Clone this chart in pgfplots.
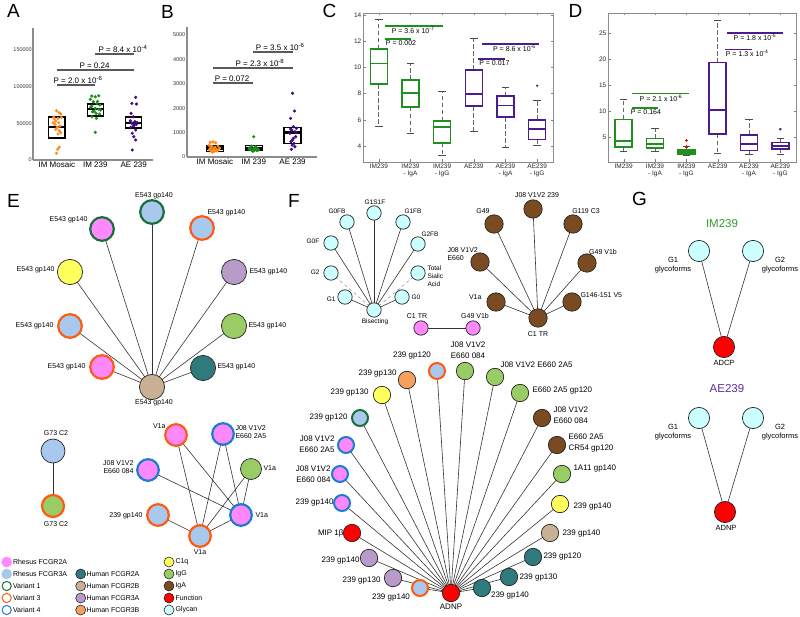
\documentclass[border=0pt]{standalone}
\usepackage{fontspec}
\setmainfont{Liberation Sans}
\usepackage{pgfplots}
\pgfplotsset{compat=1.18}
\definecolor{rpink}{HTML}{FF88FF}
\definecolor{rblue}{HTML}{A8C8EE}
\definecolor{v1}{HTML}{17703A}
\definecolor{v3}{HTML}{FF5A14}
\definecolor{v4}{HTML}{1C7CD0}
\definecolor{hteal}{HTML}{2F7A7C}
\definecolor{htan}{HTML}{C9B094}
\definecolor{hlav}{HTML}{B99BC9}
\definecolor{horg}{HTML}{F5A05C}
\definecolor{cyel}{HTML}{FFFF5E}
\definecolor{igg}{HTML}{9ACC66}
\definecolor{iga}{HTML}{7A4A20}
\definecolor{fred}{HTML}{FF0000}
\definecolor{gly}{HTML}{CCFFFF}
\definecolor{dorange}{HTML}{FF8C1A}
\definecolor{dgreen}{HTML}{1C8C1C}
\definecolor{dpurple}{HTML}{3E0C82}
\definecolor{cgreen}{HTML}{1F8F1F}
\definecolor{cpurple}{HTML}{4A1C8E}
\definecolor{imgreen}{HTML}{2E9E2E}
\definecolor{aepurple}{HTML}{5B2D9E}
\tikzset{
 wskstyle/.style={black!60, line width=0.75pt, dash pattern=on 4.5pt off 2.5pt},
 capstyle/.style={black!70, line width=0.75pt},
}
\newcommand{\fE}{\fontsize{7}{8.4}\selectfont}
\newcommand{\fF}{\fontsize{8}{10.5}\selectfont}
\newcommand{\fg}{\fontsize{6.5}{7.8}\selectfont}
\newcommand{\fG}{\fontsize{7.5}{9.5}\selectfont}
\newcommand{\fL}{\fontsize{7}{8}\selectfont}
\newcommand{\fP}{\fontsize{8}{9}\selectfont}
\newcommand{\fp}{\fontsize{7}{8}\selectfont}
\newcommand{\ed}[4]{\addplot[black!80, line width=0.6pt] coordinates {(#1,#2) (#3,#4)};}
\newcommand{\edd}[4]{\addplot[black!40, line width=0.6pt, dashed] coordinates {(#1,#2) (#3,#4)};}
\newcommand{\nn}[6]{\addplot[only marks, mark=*, mark size=#5pt, mark options={fill=#3, draw=#4, line width=#6pt}] coordinates {(#1,#2)};}
\newcommand{\lb}[5][center]{\node[anchor=#1,inner sep=0.3pt,align=center,font=#4] at (axis cs:#2,#3) {#5};}
\newcommand{\lbl}[4]{\node[anchor=west,inner sep=0.3pt,align=left,font=#3] at (axis cs:#1,#2) {#4};}
\newcommand{\lbr}[4]{\node[anchor=east,inner sep=0.3pt,align=right,font=#3] at (axis cs:#1,#2) {#4};}
\newcommand{\abox}[5]{%
 \pgfmathsetmacro\bxl{#1-#5}\pgfmathsetmacro\bxr{#1+#5}%
 \edef\mytmp{%
 \noexpand\addplot[black, line width=1.3pt, line cap=rect] coordinates {(\bxl,#2) (\bxr,#2) (\bxr,#4) (\bxl,#4) (\bxl,#2)};%
 \noexpand\addplot[black, line width=2.6pt] coordinates {(\bxl,#3) (\bxr,#3)};%
 }\mytmp}
\newcommand{\cbox}[7]{%
 \pgfmathsetmacro\bxl{#1-0.27}\pgfmathsetmacro\bxr{#1+0.27}%
 \pgfmathsetmacro\cxl{#1-0.12}\pgfmathsetmacro\cxr{#1+0.12}%
 \edef\mytmp{%
 \noexpand\addplot[wskstyle] coordinates {(#1,#5) (#1,#6)};%
 \noexpand\addplot[wskstyle] coordinates {(#1,#3) (#1,#2)};%
 \noexpand\addplot[capstyle] coordinates {(\cxl,#6) (\cxr,#6)};%
 \noexpand\addplot[capstyle] coordinates {(\cxl,#2) (\cxr,#2)};%
 \noexpand\addplot[#7, line width=1.5pt, line cap=rect] coordinates {(\bxl,#3) (\bxr,#3) (\bxr,#5) (\bxl,#5) (\bxl,#3)};%
 \noexpand\addplot[#7, line width=1.5pt] coordinates {(\bxl,#4) (\bxr,#4)};%
 }\mytmp}
\begin{document}
\begin{tikzpicture}
\path[use as bounding box] (0,0) rectangle (800pt,617pt);
% ================= network canvas (pixel coordinates) =================
\begin{axis}[at={(0pt,0pt)}, anchor=south west, scale only axis, width=800pt, height=617pt,
 xmin=0, xmax=800, ymin=0, ymax=617, y dir=reverse, hide axis, clip=false]
% panel letters
\node[font=\fontsize{19}{19}\selectfont, inner sep=0pt] at (axis cs:13.5,10.5) {A};
\node[font=\fontsize{19}{19}\selectfont, inner sep=0pt] at (axis cs:167.5,11.5) {B};
\node[font=\fontsize{19}{19}\selectfont, inner sep=0pt] at (axis cs:329.5,11) {C};
\node[font=\fontsize{19}{19}\selectfont, inner sep=0pt] at (axis cs:575.5,11) {D};
\node[font=\fontsize{19}{19}\selectfont, inner sep=0pt] at (axis cs:13.5,201) {E};
\node[font=\fontsize{19}{19}\selectfont, inner sep=0pt] at (axis cs:294,201) {F};
\node[font=\fontsize{19}{19}\selectfont, inner sep=0pt] at (axis cs:639.5,198.5) {G};
% ---- E edges
\ed{152}{212}{152}{387}
\ed{102}{229}{152}{387}
\ed{202}{228}{152}{387}
\ed{70}{272}{152}{387}
\ed{234}{272}{152}{387}
\ed{70}{326}{152}{387}
\ed{234}{326}{152}{387}
\ed{102}{367}{152}{387}
\ed{203}{368}{152}{387}
\ed{53}{451}{53}{506}
\ed{176}{435}{200}{536}
\ed{176}{435}{241}{515}
\ed{223}{434}{200}{536}
\ed{223}{434}{241}{515}
\ed{148}{470}{241}{515}
\ed{251}{469}{200}{536}
\ed{251}{469}{241}{515}
\ed{158}{515}{200}{536}
\ed{200}{536}{241}{515}
% ---- F glycan edges
\ed{374}{213}{374}{310}
\ed{347}{222}{374}{310}
\ed{403}{222}{374}{310}
\ed{331}{243}{374}{310}
\ed{418}{244}{374}{310}
\ed{345}{297}{374}{310}
\ed{402}{297}{374}{310}
\edd{331}{273}{374}{310}
\edd{418}{273}{374}{310}
\ed{421}{328}{473}{328}
% ---- F IgA edges
\ed{533}{209}{538}{318}
\ed{494}{224}{538}{318}
\ed{573}{224}{538}{318}
\ed{480}{262}{538}{318}
\ed{587}{263}{538}{318}
\ed{496}{302}{538}{318}
\ed{572}{302}{538}{318}
% ---- F ADNP edges
\ed{437}{371}{451}{593}
\ed{465}{371}{451}{593}
\ed{407}{380}{451}{593}
\ed{495}{377}{451}{593}
\ed{382}{395}{451}{593}
\ed{520}{393}{451}{593}
\ed{360}{418}{451}{593}
\ed{542}{418}{451}{593}
\ed{346}{445}{451}{593}
\ed{557}{445}{451}{593}
\ed{340}{474}{451}{593}
\ed{562}{474}{451}{593}
\ed{342}{503}{451}{593}
\ed{560}{504}{451}{593}
\ed{352}{533}{451}{593}
\ed{550}{533}{451}{593}
\ed{369}{558}{451}{593}
\ed{533}{557}{451}{593}
\ed{393}{578}{451}{593}
\ed{509}{577}{451}{593}
\ed{420}{588}{451}{593}
\ed{482}{588}{451}{593}
% ---- G edges
\ed{699}{251}{724}{347}
\ed{753}{251}{724}{347}
\ed{699}{418}{725}{512}
\ed{753}{418}{725}{512}
% ---- E nodes
\nn{152}{212}{rblue}{v1}{11.8}{2.2}
\nn{102}{229}{rpink}{v1}{11.8}{2.2}
\nn{202}{228}{rblue}{v3}{11.8}{2.2}
\nn{70}{272}{cyel}{black!85}{12.6}{0.7}
\nn{234}{272}{hlav}{black!85}{12.6}{0.7}
\nn{70}{326}{rblue}{v3}{11.8}{2.2}
\nn{234}{326}{igg}{black!85}{12.6}{0.7}
\nn{102}{367}{rpink}{v3}{11.8}{2.2}
\nn{203}{368}{hteal}{black!85}{12.6}{0.7}
\nn{152}{387}{htan}{black!85}{12.6}{0.7}
\nn{53}{451}{rblue}{black!85}{12}{0.7}
\nn{53}{506}{igg}{v3}{11}{2.2}
\nn{176}{435}{rpink}{v3}{10.8}{2.2}
\nn{223}{434}{rpink}{v4}{10.8}{2.2}
\nn{148}{470}{rpink}{v4}{10.8}{2.2}
\nn{251}{469}{igg}{black!85}{10.5}{0.7}
\nn{241}{515}{rpink}{v4}{10.8}{2.2}
\nn{158}{515}{rblue}{v3}{10.8}{2.2}
\nn{200}{536}{rblue}{v3}{10.8}{2.2}
% ---- legend
\nn{6.7}{562}{rpink}{rpink}{5}{0.5}
\nn{6.7}{574}{rblue}{rblue}{5}{0.5}
\nn{6.7}{586}{white}{v1}{4.6}{1}
\nn{6.7}{598}{white}{v3}{4.6}{1}
\nn{6.7}{610}{white}{v4}{4.6}{1}
\nn{80.7}{574}{hteal}{black!85}{5}{0.6}
\nn{80.7}{586}{htan}{black!85}{5}{0.6}
\nn{80.7}{598}{hlav}{black!85}{5}{0.6}
\nn{80.7}{610}{horg}{black!85}{5}{0.6}
\nn{169}{562}{cyel}{black!85}{5}{0.6}
\nn{169}{574}{igg}{black!85}{5}{0.6}
\nn{169}{586}{iga}{black!85}{5}{0.6}
\nn{169}{598}{fred}{black!85}{5}{0.6}
\nn{169}{610}{gly}{black!85}{5}{0.6}
% ---- F glycan nodes
\nn{374}{213}{gly}{black!85}{7.2}{0.7}
\nn{347}{222}{gly}{black!85}{7.2}{0.7}
\nn{403}{222}{gly}{black!85}{7.2}{0.7}
\nn{331}{243}{gly}{black!85}{7.2}{0.7}
\nn{418}{244}{gly}{black!85}{7.2}{0.7}
\nn{331}{273}{gly}{black!85}{7.2}{0.7}
\nn{418}{273}{gly}{black!85}{7.2}{0.7}
\nn{345}{297}{gly}{black!85}{7.2}{0.7}
\nn{402}{297}{gly}{black!85}{7.2}{0.7}
\nn{374}{310}{gly}{black!85}{7.2}{0.7}
\nn{421}{328}{rpink}{black!85}{7.2}{0.7}
\nn{473}{328}{rpink}{black!85}{7.2}{0.7}
% ---- F IgA nodes
\nn{533}{209}{iga}{black!85}{9.2}{0.7}
\nn{494}{224}{iga}{black!85}{9.2}{0.7}
\nn{573}{224}{iga}{black!85}{9.2}{0.7}
\nn{480}{262}{iga}{black!85}{9.2}{0.7}
\nn{587}{263}{iga}{black!85}{9.2}{0.7}
\nn{496}{302}{iga}{black!85}{9.2}{0.7}
\nn{572}{302}{iga}{black!85}{9.2}{0.7}
\nn{538}{318}{iga}{black!85}{9.2}{0.7}
% ---- F ADNP nodes
\nn{437}{371}{rblue}{v3}{8}{2}
\nn{465}{371}{igg}{black!85}{8.7}{0.7}
\nn{407}{380}{horg}{black!85}{8.7}{0.7}
\nn{495}{377}{igg}{black!85}{8.7}{0.7}
\nn{382}{395}{cyel}{black!85}{8.7}{0.7}
\nn{520}{393}{igg}{black!85}{8.7}{0.7}
\nn{360}{418}{rblue}{v1}{8}{2}
\nn{542}{418}{iga}{black!85}{8.7}{0.7}
\nn{346}{445}{rpink}{v4}{8}{2}
\nn{557}{445}{iga}{black!85}{8.7}{0.7}
\nn{340}{474}{rpink}{v4}{8}{2}
\nn{562}{474}{igg}{black!85}{8.7}{0.7}
\nn{342}{503}{rpink}{v4}{8}{2}
\nn{560}{504}{cyel}{black!85}{8.7}{0.7}
\nn{352}{533}{fred}{black!85}{8.7}{0.7}
\nn{550}{533}{htan}{black!85}{8.7}{0.7}
\nn{369}{558}{hlav}{black!85}{8.7}{0.7}
\nn{533}{557}{hteal}{black!85}{8.7}{0.7}
\nn{393}{578}{hlav}{black!85}{8.7}{0.7}
\nn{509}{577}{hteal}{black!85}{8.7}{0.7}
\nn{420}{588}{rblue}{v3}{8}{2}
\nn{482}{588}{hteal}{black!85}{8.7}{0.7}
\nn{451}{593}{fred}{black!85}{8.7}{0.7}
% ---- G nodes
\nn{699}{251}{gly}{black!85}{10.6}{0.7}
\nn{753}{251}{gly}{black!85}{10.6}{0.7}
\nn{724}{347}{fred}{black!85}{10.6}{0.7}
\nn{699}{418}{gly}{black!85}{10.6}{0.7}
\nn{753}{418}{gly}{black!85}{10.6}{0.7}
\nn{725}{512}{fred}{black!85}{10.6}{0.7}
% ---- E labels
\lb{154}{196}{\fE}{E543 gp140}
\lbr{88}{220}{\fE}{E543 gp140}
\lbl{207}{213}{\fE}{E543 gp140}
\lbr{55}{270}{\fE}{E543 gp140}
\lbl{249}{272}{\fE}{E543 gp140}
\lbr{54}{326}{\fE}{E543 gp140}
\lbl{248}{326}{\fE}{E543 gp140}
\lbr{86}{367}{\fE}{E543 gp140}
\lbl{217}{367}{\fE}{E543 gp140}
\lb{154}{403}{\fE}{E543 gp140}
\lb{56}{433}{\fE}{G73 C2}
\lb{56}{524}{\fE}{G73 C2}
\lbr{166}{426}{\fE}{V1a}
\lbl{235}{432}{\fE}{J08 V1V2\\E660 2A5}
\lbr{134}{467}{\fE}{J08 V1V2\\E660 084}
\lbl{263}{468}{\fE}{V1a}
\lbl{255}{515}{\fE}{V1a}
\lbr{143}{516}{\fE}{239 gp140}
\lb{200}{552}{\fE}{V1a}
% ---- legend labels
\lbl{12.5}{562}{\fL}{Rhesus FCGR2A}
\lbl{12.5}{574}{\fL}{Rhesus FCGR3A}
\lbl{12.5}{586}{\fL}{Variant 1}
\lbl{12.5}{598}{\fL}{Variant 3}
\lbl{12.5}{610}{\fL}{Variant 4}
\lbl{86}{574}{\fL}{Human FCGR2A}
\lbl{86}{586}{\fL}{Human FCGR2B}
\lbl{86}{598}{\fL}{Human FCGR3A}
\lbl{86}{610}{\fL}{Human FCGR3B}
\lbl{175}{562}{\fL}{C1q}
\lbl{175}{574}{\fL}{IgG}
\lbl{175}{586}{\fL}{IgA}
\lbl{175}{598}{\fL}{Function}
\lbl{175}{610}{\fL}{Glycan}
% ---- F glycan labels
\lb{375}{202}{\fg}{G1S1F}
\lb{337}{211}{\fg}{G0FB}
\lb{413}{211}{\fg}{G1FB}
\lb{313}{241}{\fg}{G0F}
\lb{430}{234}{\fg}{G2FB}
\lbr{320}{272}{\fg}{G2}
\lbl{427}{276}{\fg}{Total\\Sialic\\Acid}
\lbr{336}{299}{\fg}{G1}
\lbl{411}{297}{\fg}{G0}
\lb{375}{322}{\fg}{Bisecting}
\lb{417}{316}{\fE}{C1 TR}
\lb{475}{316}{\fE}{G49 V1b}
% ---- F IgA labels
\lb{537}{195}{\fE}{J08 V1V2 239}
\lb{483}{211}{\fE}{G49}
\lb{586}{211}{\fE}{G119 C3}
\lbl{447}{254}{\fE}{J08 V1V2\\E660}
\lb{603}{252}{\fE}{G49 V1b}
\lbr{482}{297}{\fE}{V1a}
\lbl{580}{295}{\fE}{G146-151 V5}
\lb{538}{334}{\fE}{C1 TR}
% ---- F ADNP labels
\lb{412}{356}{\fF}{239 gp120}
\lb{468}{350}{\fF}{J08 V1V2\\E660 084}
\lbr{397}{374}{\fF}{239 gp130}
\lbl{500}{365}{\fF}{J08 V1V2 E660 2A5}
\lbr{369}{393}{\fF}{239 gp130}
\lbl{532}{391}{\fF}{E660 2A5 gp120}
\lbr{348}{418}{\fF}{239 gp120}
\lbl{553}{415}{\fF}{J08 V1V2\\E660 084}
\lbr{335}{444}{\fF}{J08 V1V2\\E660 2A5}
\lbl{568}{443}{\fF}{E660 2A5\\CR54 gp120}
\lbr{331}{474}{\fF}{J08 V1V2\\E660 084}
\lbl{573}{469}{\fF}{1A11 gp140}
\lbr{334}{503}{\fF}{239 gp140}
\lbl{573}{507}{\fF}{239 gp140}
\lbr{344}{533}{\fF}{MIP 1β}
\lbl{562}{534}{\fF}{239 gp140}
\lbr{360}{561}{\fF}{239 gp140}
\lbl{543}{557}{\fF}{239 gp120}
\lbr{381}{581}{\fF}{239 gp130}
\lbl{519}{578}{\fF}{239 gp130}
\lb{391}{598}{\fF}{239 gp140}
\lb{510}{596}{\fF}{239 gp140}
\lb{451}{607}{\fF}{ADNP}
% ---- G labels
\node[font=\fontsize{11.5}{12}\selectfont, text=imgreen] at (axis cs:722,224) {IM239};
\lb{673}{265}{\fG}{G1\\glycoforms}
\lb{780}{265}{\fG}{G2\\glycoforms}
\lb{724}{363}{\fG}{ADCP}
\node[font=\fontsize{11.5}{12}\selectfont, text=aepurple] at (axis cs:727,389) {AE239};
\lb{673}{432}{\fG}{G1\\glycoforms}
\lb{780}{432}{\fG}{G2\\glycoforms}
\lb{726}{528}{\fG}{ADNP}
\end{axis}
% ================= A =================
\begin{axis}[at={(33pt,457pt)}, anchor=south west, scale only axis, width=120pt, height=132pt,
 xmin=0.38, xmax=3.5, ymin=0, ymax=180000, clip=false,
 axis x line=bottom, axis y line=left, axis line style={-, black!45, line width=1.2pt},
 xtick={1,2,3}, xticklabels={IM Mosaic,IM 239,AE 239},
 ytick={0,50000,100000,150000}, yticklabels={0,50000,100000,150000}, scaled y ticks=false,
 major tick length=0pt,
 xticklabel style={font=\fontsize{8}{9}\selectfont, inner sep=1.5pt},
 yticklabel style={font=\fontsize{5.5}{6}\selectfont, inner sep=1pt, text=black!80}]
\abox{1}{30000}{45000}{58600}{0.21}
\abox{2}{60000}{69500}{76300}{0.21}
\abox{3}{43600}{50400}{58600}{0.21}
\addplot[only marks, mark=*, mark size=1.4pt, dorange] coordinates {(0.99,67200) (1.06,64500) (1.10,62700) (0.92,58100) (1.03,56800) (0.97,53100) (0.90,50800) (1.05,50800) (0.95,48600) (1.08,46300) (1.01,44500) (0.97,41800) (1.06,40000) (1.10,37200) (1.03,35400) (1.06,17300) (1.02,14500) (0.99,9100) (0.93,56000) (1.12,58000)};
\addplot[only marks, mark=*, mark size=1.4pt, dgreen] coordinates {(1.91,87200) (2.0,86200) (2.09,87500) (1.87,82700) (1.95,79400) (2.04,77200) (2.12,74900) (1.91,73600) (2.0,70400) (2.09,69100) (1.93,65800) (2.02,63600) (2.11,62700) (1.91,59000) (2.03,56800) (2.0,37700) (2.06,80000) (1.97,66500) (2.13,68000) (1.88,72000)};
\addplot[only marks, mark=*, mark size=1.4pt, dpurple] coordinates {(3.05,85400) (2.95,77200) (3.07,76300) (2.93,63600) (2.99,59000) (2.91,53600) (3.03,52200) (2.96,50000) (3.07,48600) (2.99,46300) (2.92,44500) (3.05,40900) (2.96,36400) (3.0,31800) (3.05,27300) (2.96,13600) (3.02,49000) (2.94,50500) (3.09,51000) (3.01,47500)};
\addplot[black!65, line width=1.8pt] coordinates {(1,102200) (2,102200)};
\addplot[black!65, line width=1.8pt] coordinates {(1,122600) (3,122600)};
\addplot[black!65, line width=1.8pt] coordinates {(2,144400) (3,144400)};
\node[font=\fP, anchor=south, inner sep=1pt] at (axis cs:1.55,102200) {P = 2.0 x 10\textsuperscript{-6}};
\node[font=\fP, anchor=south, inner sep=1pt] at (axis cs:1.98,122600) {P = 0.24};
\node[font=\fP, anchor=south, inner sep=1pt] at (axis cs:2.72,144400) {P = 8.4 x 10\textsuperscript{-4}};
\end{axis}
% ================= B =================
\begin{axis}[at={(187pt,460pt)}, anchor=south west, scale only axis, width=130pt, height=130pt,
 xmin=0.28, xmax=3.63, ymin=0, ymax=5330, clip=false,
 axis x line=bottom, axis y line=left, axis line style={-, black!45, line width=1.2pt},
 xtick={1,2,3}, xticklabels={IM Mosaic,IM 239,AE 239},
 ytick={0,1000,2000,3000,4000,5000}, yticklabels={0,1000,2000,3000,4000,5000}, scaled y ticks=false,
 major tick length=0pt,
 xticklabel style={font=\fontsize{8}{9}\selectfont, inner sep=1.5pt},
 yticklabel style={font=\fontsize{5.5}{6}\selectfont, inner sep=1.5pt, text=black!80}]
\abox{1}{220}{350}{450}{0.22}
\abox{2}{260}{360}{460}{0.22}
\abox{3}{560}{1000}{1200}{0.22}
\addplot[only marks, mark=*, mark size=1.4pt, dorange] coordinates {(0.88,600) (0.95,620) (1.02,580) (0.85,480) (0.92,430) (1.0,400) (1.08,450) (0.88,350) (0.96,330) (1.04,300) (1.12,360) (0.90,260) (0.98,230) (1.06,250) (0.93,200) (1.01,280) (1.10,320) (0.86,300)};
\addplot[only marks, mark=*, mark size=1.4pt, dgreen] coordinates {(2.0,830) (1.95,450) (2.05,420) (1.90,380) (2.0,350) (2.10,330) (1.93,300) (2.02,280) (2.08,260) (1.97,240) (1.88,320) (2.12,290) (2.04,360) (1.96,270) (2.0,250)};
\addplot[only marks, mark=*, mark size=1.4pt, dpurple] coordinates {(3.0,2610) (3.05,1885) (2.95,1585) (3.02,1240) (3.10,1175) (2.98,1100) (3.06,1040) (2.93,970) (3.08,830) (3.0,700) (2.96,630) (3.04,560) (2.99,490) (3.06,420) (2.97,315) (3.10,1000) (2.95,1150) (3.02,760)};
\addplot[black!65, line width=1.8pt] coordinates {(0.95,3034) (1.97,3034)};
\addplot[black!65, line width=1.8pt] coordinates {(0.95,3650) (3.0,3650)};
\addplot[black!65, line width=1.8pt] coordinates {(1.97,4305) (3.0,4305)};
\node[font=\fP, anchor=south, inner sep=1pt] at (axis cs:1.44,3034) {P = 0.072};
\node[font=\fP, anchor=south, inner sep=1pt] at (axis cs:2.16,3650) {P = 2.3 x 10\textsuperscript{-8}};
\node[font=\fP, anchor=south, inner sep=1pt] at (axis cs:2.68,4305) {P = 3.5 x 10\textsuperscript{-6}};
\end{axis}
% ================= C =================
\begin{axis}[at={(363pt,455pt)}, anchor=south west, scale only axis, width=190pt, height=149pt,
 xmin=0.5, xmax=6.5, ymin=2.78, ymax=14.15, clip=false,
 xtick={1,2,3,4,5,6}, xticklabels={IM239,{IM239\\- IgA},{IM239\\- IgG},AE239,{AE239\\- IgA},{AE239\\- IgG}},
 ytick={4,6,8,10,12,14}, axis line style={black!45}, tick style={black!50},
 major tick length=2.5pt, /pgf/number format/assume math mode=true,
 tick label style={font=\fontsize{6.5}{7.5}\selectfont, text=black!85},
 xticklabel style={align=center, inner sep=1.5pt}, yticklabel style={inner sep=1.5pt}]
\cbox{1}{5.5}{8.73}{10.3}{11.4}{13.7}{cgreen}
\cbox{2}{5.0}{6.98}{8.05}{9.04}{10.3}{cgreen}
\cbox{3}{3.3}{4.23}{5.45}{5.9}{8.2}{cgreen}
\cbox{4}{5.1}{7.05}{7.97}{9.8}{12.2}{cpurple}
\cbox{5}{3.9}{6.2}{7.1}{7.8}{8.5}{cpurple}
\cbox{6}{4.07}{4.5}{5.3}{6.0}{7.5}{cpurple}
\addplot[only marks, mark=*, mark size=0.9pt, cpurple] coordinates {(6,8.6)};
\addplot[cgreen, line width=1.2pt] coordinates {(1.19,13.16) (3.03,13.16)};
\addplot[cgreen, line width=1.2pt] coordinates {(1.19,12.17) (2.02,12.17)};
\addplot[cpurple, line width=1.2pt] coordinates {(4.26,11.79) (6.06,11.79)};
\addplot[cpurple, line width=1.2pt] coordinates {(4.13,10.64) (4.98,10.64)};
\node[font=\fp, anchor=north, inner sep=1pt] at (axis cs:2.08,13.16) {P = 3.6 x 10\textsuperscript{-7}};
\node[font=\fp, anchor=north, inner sep=1pt] at (axis cs:1.70,12.17) {P = 0.002};
\node[font=\fp, anchor=north, inner sep=1pt] at (axis cs:5.28,11.79) {P = 8.6 x 10\textsuperscript{-6}};
\node[font=\fp, anchor=north, inner sep=1pt] at (axis cs:4.65,10.64) {P = 0.017};
\end{axis}
% ================= D =================
\begin{axis}[at={(608pt,455pt)}, anchor=south west, scale only axis, width=188pt, height=149pt,
 xmin=0.5, xmax=6.5, ymin=0.19, ymax=28.85, clip=false,
 xtick={1,2,3,4,5,6}, xticklabels={IM239,{IM239\\- IgA},{IM239\\- IgG},AE239,{AE239\\- IgA},{AE239\\- IgG}},
 ytick={5,10,15,20,25}, axis line style={black!45}, tick style={black!50},
 major tick length=2.5pt, /pgf/number format/assume math mode=true,
 tick label style={font=\fontsize{6.5}{7.5}\selectfont, text=black!85},
 xticklabel style={align=center, inner sep=1.5pt}, yticklabel style={inner sep=1.5pt}]
\cbox{1}{2.3}{3.1}{4.2}{8.4}{12.3}{cgreen}
\cbox{2}{2.2}{2.9}{3.65}{4.7}{6.7}{cgreen}
\cbox{3}{1.5}{1.7}{2.1}{2.5}{3.1}{cgreen, fill=cgreen}
\cbox{4}{1.9}{5.6}{10.2}{19.3}{27.5}{cpurple}
\cbox{5}{1.7}{2.4}{3.65}{5.4}{8.3}{cpurple}
\cbox{6}{1.7}{2.7}{3.3}{3.9}{4.75}{cpurple}
\addplot[only marks, mark=+, mark size=1.6pt, red] coordinates {(3,4.3) (3,3.1)};
\addplot[only marks, mark=*, mark size=1.1pt, cpurple] coordinates {(6,6.5)};
\addplot[cgreen, line width=1.2pt] coordinates {(1.27,13.4) (3.09,13.4)};
\addplot[cgreen, line width=1.2pt] coordinates {(1.27,10.58) (2.10,10.58)};
\addplot[cpurple, line width=1.2pt] coordinates {(4.30,25.0) (6.09,25.0)};
\addplot[cpurple, line width=1.2pt] coordinates {(4.23,21.9) (5.10,21.9)};
\node[font=\fp, anchor=north, inner sep=1pt] at (axis cs:2.19,13.4) {P = 2.1 x 10\textsuperscript{-6}};
\node[font=\fp, anchor=north, inner sep=1pt] at (axis cs:1.71,10.58) {P = 0.164};
\node[font=\fp, anchor=north, inner sep=1pt] at (axis cs:5.19,25.0) {P = 1.8 x 10\textsuperscript{-5}};
\node[font=\fp, anchor=north, inner sep=1pt] at (axis cs:4.94,21.9) {P = 1.3 x 10\textsuperscript{-4}};
\end{axis}
\end{tikzpicture}
\end{document}
